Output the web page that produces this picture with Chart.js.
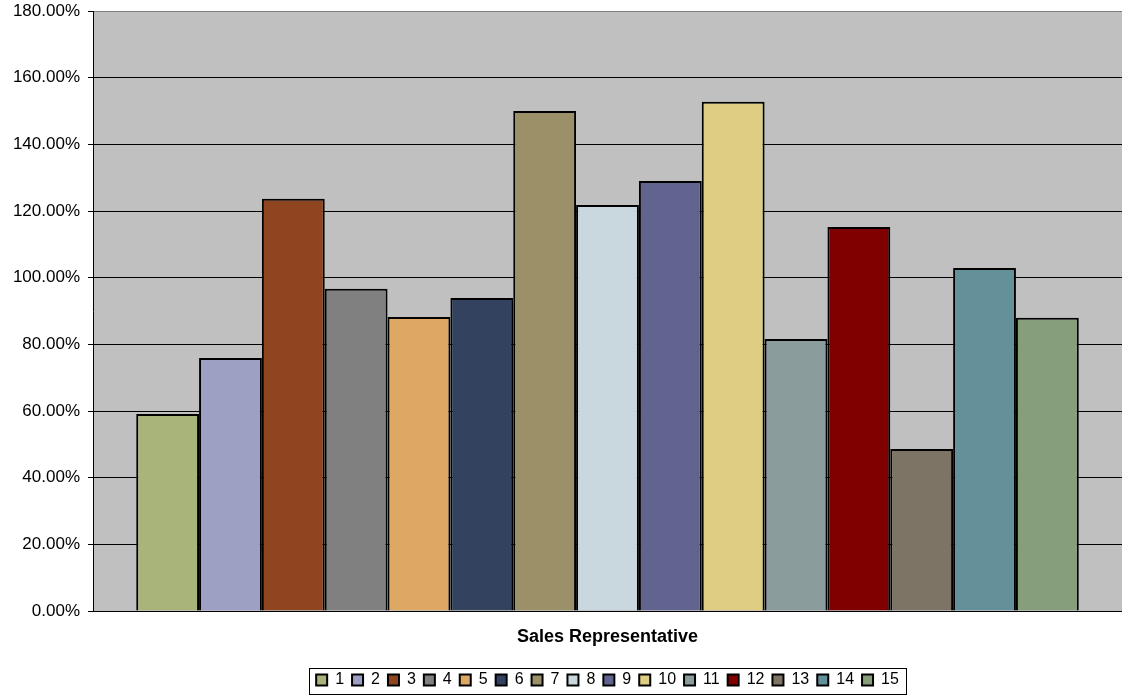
<!DOCTYPE html>
<html>
<head>
<meta charset="utf-8">
<script src="https://cdn.jsdelivr.net/npm/chart.js@4"></script>
<style>
  html, body { margin: 0; padding: 0; background: #fff; }
  #wrap { width: 1122px; height: 698px; }
</style>
</head>
<body>
<div id="wrap"><canvas id="mycanvas" width="1122" height="698"></canvas></div>
<script>
// sales reps and their achievement (% of target)
var reps = ['1', '2', '3', '4', '5', '6', '7', '8', '9', '10', '11', '12', '13', '14', '15'];
var achieved = [59.1, 75.9, 123.7, 96.7, 88.2, 93.9, 150.0, 121.8, 129.0, 152.8, 81.6, 115.2, 48.6, 102.9, 88.0];
var colours = ['#A9B47B', '#9DA0C3', '#8F4620', '#808080', '#DEA864', '#33425F', '#9B9068',
	'#C9D8DE', '#61648F', '#DECD83', '#8A9C9B', '#800000', '#7D7465', '#64909A', '#879E7B'];
var yTicks = [0, 20, 40, 60, 80, 100, 120, 140, 160, 180];

var fontFamily = '"Liberation Sans", Arial, sans-serif';

var datasets = [];
for (var i in reps) {
	datasets.push({
		label: reps[i],
		data: [achieved[i]],
		backgroundColor: colours[i],
		borderColor: '#000',
		borderWidth: 2,
		barPercentage: 1,
		categoryPercentage: 0.916
	});
}

// grey plot area behind the bars
var plotBackground = {
	id: 'plotBackground',
	beforeDraw: function(chart) {
		var a = chart.chartArea, ctx = chart.ctx;
		ctx.save();
		ctx.fillStyle = '#C0C0C0';
		ctx.fillRect(a.left, a.top, a.right - a.left, a.bottom - a.top);
		ctx.restore();
	}
};

// frame around the legend
var legendFrame = {
	id: 'legendFrame',
	afterDraw: function(chart) {
		var boxes = chart.legend.legendHitBoxes;
		if (!boxes || !boxes.length) return;
		var x1 = Infinity, y1 = Infinity, x2 = -Infinity, y2 = -Infinity;
		boxes.forEach(function(b) {
			x1 = Math.min(x1, b.left); y1 = Math.min(y1, b.top);
			x2 = Math.max(x2, b.left + b.width); y2 = Math.max(y2, b.top + b.height);
		});
		var ctx = chart.ctx;
		ctx.save();
		ctx.strokeStyle = '#000';
		ctx.lineWidth = 1;
		ctx.strokeRect(Math.round(x1 - 7) + 0.5, Math.round(y1 - 4) + 0.5, Math.round(x2 - x1 + 14), Math.round(y2 - y1 + 10));
		ctx.restore();
	}
};

var ctx = document.getElementById('mycanvas');

var barGraph = new Chart(ctx, {
	type: 'bar',
	data: {
		labels: [''],
		datasets: datasets
	},
	options: {
		responsive: false,
		animation: false,
		layout: { padding: { top: 11, right: 0, bottom: 0, left: 0 } },
		plugins: {
			tooltip: { enabled: false },
			legend: {
				position: 'bottom',
				fullSize: false,
				labels: {
					boxWidth: 11,
					boxHeight: 11,
					padding: 8,
					color: '#000',
					font: { family: fontFamily, size: 16 }
				}
			}
		},
		scales: {
			x: {
				grid: { display: false },
				border: { display: false },
				ticks: { display: false },
				title: {
					display: true,
					text: 'Sales Representative',
					color: '#000',
					font: { family: fontFamily, size: 18, weight: 'bold' },
					padding: { top: 0, bottom: 16 }
				},
				afterFit: function(scale) { scale.height = 53; }
			},
			y: {
				min: 0,
				max: 180,
				afterBuildTicks: function(scale) {
					scale.ticks = yTicks.map(function(v) { return { value: v }; });
				},
				ticks: {
					padding: 8,
					color: '#000',
					font: { family: fontFamily, size: 17 },
					callback: function(v) { return v.toFixed(2) + '%'; }
				},
				grid: {
					color: function(c) { return c.tick && c.tick.value === 180 ? '#808080' : '#000'; },
					lineWidth: 1,
					tickLength: 5,
					tickColor: '#000'
				},
				border: { display: true, color: '#000', width: 1 },
				afterFit: function(scale) {
					scale.width = 93;
					scale.paddingTop = 0;
					scale.paddingBottom = 0;
				}
			}
		}
	},
	plugins: [plotBackground, legendFrame]
});
</script>
</body>
</html>
